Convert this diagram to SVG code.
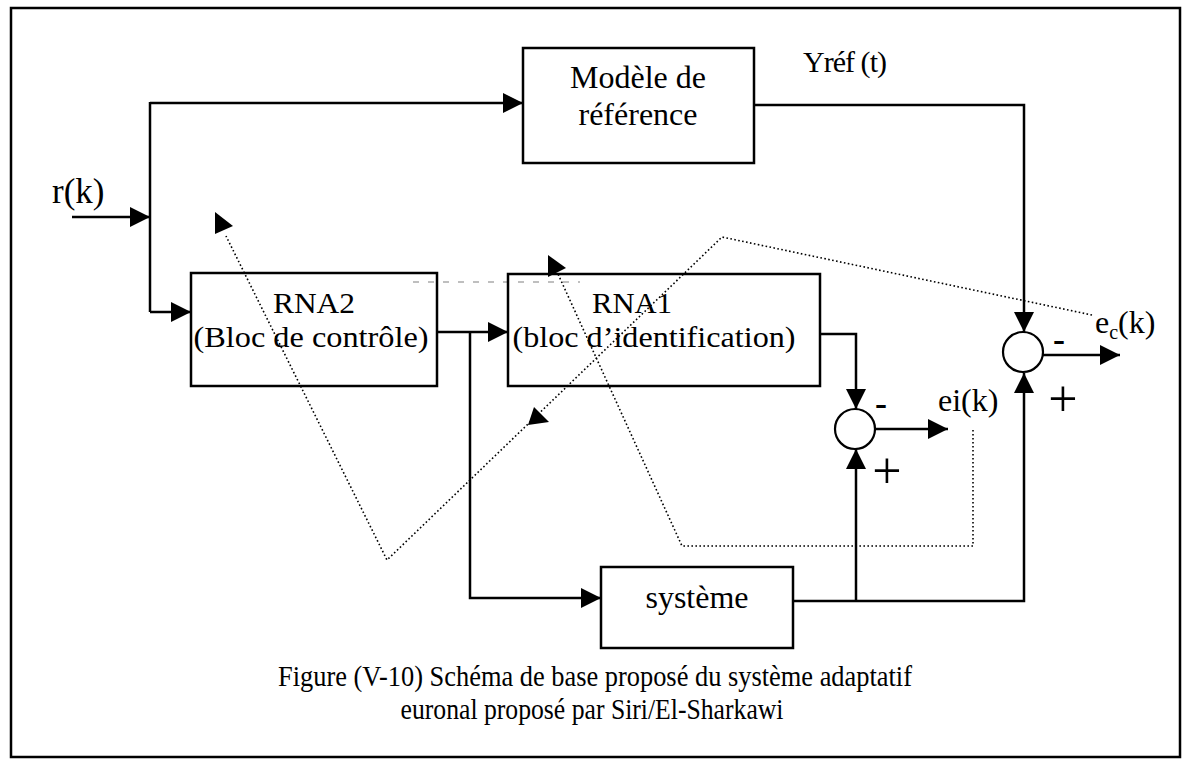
<svg xmlns="http://www.w3.org/2000/svg" width="1190" height="767" viewBox="0 0 1190 767">
<style>
.t{font-family:"Liberation Serif","Times New Roman",serif;fill:#000}
.box{fill:#fff;stroke:#000;stroke-width:2.5}
.w{fill:none;stroke:#000;stroke-width:2.5}
.d{fill:none;stroke:#000;stroke-width:1.6;stroke-dasharray:1.6 2.4}
.sum{fill:#fff;stroke:#000;stroke-width:2.2}
</style>
<defs>
<marker id="ah" markerUnits="userSpaceOnUse" markerWidth="20" markerHeight="20" refX="20" refY="10" orient="auto">
<path d="M0,0 L20,10 L0,20 z" fill="#000"/>
</marker>
</defs>
<rect x="11" y="8" width="1169" height="749" fill="#fff" stroke="#000" stroke-width="2.5"/>

<g id="connectors">
<path class="w" d="M72,217 H150" marker-end="url(#ah)"/>
<path class="w" d="M150,102 V312"/>
<path class="w" d="M150,103 H523" marker-end="url(#ah)"/>
<path class="w" d="M150,312 H191" marker-end="url(#ah)"/>
<path class="w" d="M754,105 H1024 V332" marker-end="url(#ah)"/>
<path class="w" d="M437,332 H508" marker-end="url(#ah)"/>
<path class="w" d="M470,332 V598 H601" marker-end="url(#ah)"/>
<path class="w" d="M820,334 H856 V409" marker-end="url(#ah)"/>
<path class="w" d="M793,601 H1024 V373" marker-end="url(#ah)"/>
<path class="w" d="M856,601 V449" marker-end="url(#ah)"/>
<path class="w" d="M875,429 H948" marker-end="url(#ah)"/>
<path class="w" d="M1043,355 H1120" marker-end="url(#ah)"/>
<path class="d" d="M1092,315 L722,237 L387,560 L226,236"/>
<polygon points="215,212 215,234 233,226" fill="#000"/>
<polygon points="528,425 534,407 549,422" fill="#000"/>
<path class="d" d="M973,430 V546 H682 L558,274"/>
<polygon points="548,255 548,277 566,268" fill="#000"/>
<path d="M413,282 H580" fill="none" stroke="#aaa" stroke-width="1.3" stroke-dasharray="6 9"/>
</g>

<g id="modele">
<rect class="box" x="523" y="48" width="231" height="115"/>
<text class="t" x="638" y="88" font-size="32" text-anchor="middle">Modèle de</text>
<text class="t" x="638" y="125" font-size="32" text-anchor="middle">référence</text>
</g>

<g id="rna2">
<rect class="box" x="191" y="273" width="246" height="113" fill-opacity="0"/>
<text class="t" x="314" y="313" font-size="30" text-anchor="middle" textLength="82" lengthAdjust="spacingAndGlyphs">RNA2</text>
<text class="t" x="311" y="347" font-size="30" text-anchor="middle" textLength="235" lengthAdjust="spacingAndGlyphs">(Bloc de contrôle)</text>
</g>

<g id="rna1">
<rect class="box" x="508" y="274" width="312" height="112" fill-opacity="0"/>
<text class="t" x="632" y="313" font-size="30" text-anchor="middle" textLength="80" lengthAdjust="spacingAndGlyphs">RNA1</text>
<text class="t" x="654" y="347" font-size="30" text-anchor="middle" textLength="283" lengthAdjust="spacingAndGlyphs">(bloc d’identification)</text>
</g>

<g id="systeme">
<rect class="box" x="601" y="567" width="192" height="81"/>
<text class="t" x="697" y="608" font-size="32" text-anchor="middle">système</text>
</g>

<g id="sum1">
<circle class="sum" cx="855" cy="429" r="20"/>
<text class="t" x="881" y="415" font-size="36" font-weight="bold" text-anchor="middle">-</text>
<text class="t" x="887" y="488" font-size="52" text-anchor="middle">+</text>
</g>

<g id="sum2">
<circle class="sum" cx="1023" cy="352" r="20"/>
<text class="t" x="1059" y="351" font-size="36" font-weight="bold" text-anchor="middle">-</text>
<text class="t" x="1063" y="416" font-size="52" text-anchor="middle">+</text>
</g>

<g id="labels">
<text class="t" x="52" y="203" font-size="35">r(k)</text>
<text class="t" x="803" y="72" font-size="30" textLength="84">Yréf (t)</text>
<text class="t" x="938" y="411" font-size="32">ei(k)</text>
<text class="t" x="1095" y="333" font-size="32">e<tspan font-size="20" dy="6">c</tspan><tspan dy="-6">(k)</tspan></text>
</g>

<g id="caption">
<text class="t" x="595" y="686" font-size="29" text-anchor="middle" textLength="634" lengthAdjust="spacingAndGlyphs">Figure (V-10) Schéma de base proposé du système adaptatif</text>
<text class="t" x="592" y="719" font-size="29" text-anchor="middle" textLength="383" lengthAdjust="spacingAndGlyphs">euronal proposé par  Siri/El-Sharkawi</text>
</g>
</svg>
